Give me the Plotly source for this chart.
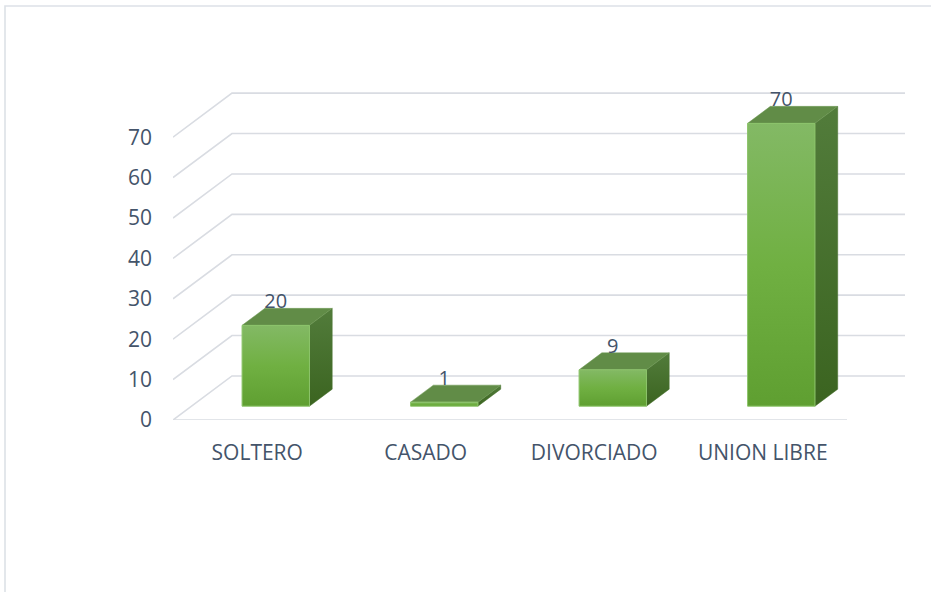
import plotly.graph_objects as go

# ---- data ----
categories = ["SOLTERO", "CASADO", "DIVORCIADO", "UNION LIBRE"]
values = [20, 1, 9, 70]
y_ticks = [0, 10, 20, 30, 40, 50, 60, 70]

# ---- 3D oblique geometry (in axis units) ----
DX, DY = 0.35, 10.9          # full floor depth offset
F0, FD = 0.314, 0.386        # bar front depth fraction, bar depth fraction
BAR_W = 0.40
X_LEFT, X_RIGHT = -0.5, len(categories) - 0.5
PX_PER_UNIT = 4.04

GRID = "#d9dce2"
TXT = "#44546a"
FONT = "Open Sans, sans-serif"

fig = go.Figure()

# gridlines: front floor edge, left diagonals, back wall
fig.add_trace(go.Scatter(x=[X_LEFT, X_RIGHT], y=[0, 0], mode="lines",
                         line=dict(color=GRID, width=1.6), hoverinfo="skip", showlegend=False))
for v in y_ticks:
    fig.add_trace(go.Scatter(
        x=[X_LEFT, X_LEFT + DX, X_RIGHT + DX],
        y=[v, v + DY, v + DY],
        mode="lines", line=dict(color=GRID, width=1.6),
        hoverinfo="skip", showlegend=False))

ddx, ddy = FD * DX, FD * DY
b = F0 * DY
for i, v in enumerate(values):
    x0 = i - BAR_W / 2 + F0 * DX
    x1 = x0 + BAR_W
    # side face
    fig.add_trace(go.Scatter(
        x=[x1, x1, x1 + ddx, x1 + ddx, x1], y=[b, b + v, b + v + ddy, b + ddy, b],
        fill="toself", mode="lines", line=dict(width=0.5, color="#4a7330"),
        fillgradient=dict(type="vertical", colorscale=[[0, "#3b6420"], [1, "#527c3b"]]),
        hoverinfo="skip", showlegend=False))
    # top face
    fig.add_trace(go.Scatter(
        x=[x0, x1, x1 + ddx, x0 + ddx, x0], y=[b + v, b + v, b + v + ddy, b + v + ddy, b + v],
        fill="toself", mode="lines", line=dict(width=0.5, color="#6f9a55"),
        fillcolor="#618c47", hoverinfo="skip", showlegend=False))
    # front face
    fig.add_trace(go.Scatter(
        x=[x0, x1, x1, x0, x0], y=[b, b, b + v, b + v, b],
        fill="toself", mode="lines", line=dict(width=1, color="#8cc46a"),
        fillgradient=dict(type="vertical", colorscale=[[0, "#5f9f31"], [0.5, "#70b042"], [1, "#83b965"]]),
        hoverinfo="skip", showlegend=False))

# data labels (text sits just above the back edge of each bar's top face)
fig.add_trace(go.Scatter(
    x=[i + F0 * DX for i in range(len(values))],
    y=[b + v + ddy - 5 / PX_PER_UNIT for v in values],
    mode="text", text=[str(v) for v in values], textposition="top center",
    textfont=dict(family=FONT, size=20, color=TXT),
    hoverinfo="skip", showlegend=False, cliponaxis=False))

fig.update_layout(
    width=931, height=592,
    margin=dict(l=173, r=26, t=84, b=172),
    paper_bgcolor="white", plot_bgcolor="white",
    font=dict(family=FONT, color=TXT, size=21),
    xaxis=dict(range=[X_LEFT, X_LEFT + 732 / 168.5], tickvals=list(range(len(categories))),
               ticktext=categories, showgrid=False, zeroline=False, showline=False,
               ticks="", ticklabelstandoff=18, fixedrange=True),
    yaxis=dict(range=[0, 336 / PX_PER_UNIT], tickvals=y_ticks, showgrid=False, zeroline=False,
               showline=False, ticks="", ticklabelstandoff=20, fixedrange=True),
    shapes=[dict(type="rect", xref="paper", yref="paper",
                 x0=(5 - 173) / 732, x1=1.2, y0=-0.7, y1=(420 - 6) / 336,
                 line=dict(color="#dde1e7", width=1.6), layer="below")],
)

fig.write_html("out.html", config={"displayModeBar": False, "staticPlot": True},
               post_script="document.body.style.margin='0';document.body.style.overflow='hidden';")
